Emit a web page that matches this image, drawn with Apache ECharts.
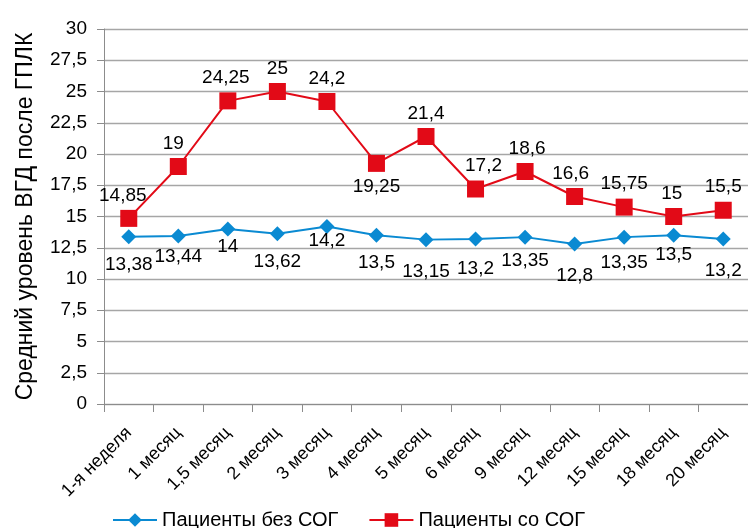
<!DOCTYPE html>
<html><head><meta charset="utf-8">
<script src="https://cdn.jsdelivr.net/npm/echarts@6/dist/echarts.min.js"></script>
<style>html,body{margin:0;padding:0;background:#fff}#c{width:748px;height:528px}</style>
</head><body><div id="c"></div>
<script>
const categories = ['1-я неделя','1 месяц','1,5 месяц','2 месяц','3 месяц','4 месяц','5 месяц','6 месяц','9 месяц','12 месяц','15 месяц','18 месяц','20 месяц'];
const withoutSOG = [13.38,13.44,14,13.62,14.2,13.5,13.15,13.2,13.35,12.8,13.35,13.5,13.2];
const withSOG = [14.85,19,24.25,25,24.2,19.25,21.4,17.2,18.6,16.6,15.75,15,15.5];
const seriesNames = ['Пациенты без СОГ','Пациенты со СОГ'];
const yTicks = {min:0, max:30, interval:2.5};
const yName = 'Средний уровень ВГД после ГПЛК';

// label layout tweaks (style only)
const redLabelNudgeX = [-6,-5,-2,0,0,0,0,8,2,-4,0,-2,0];
const blueLabelNudgeY = [4,-3,-6,4,-10,4,8,6,0,8,2,-4,8];

const font = 'Liberation Sans, Arial, sans-serif';
const fmt = v => String(v).replace('.', ',');
const blue = '#0A8AD2', red = '#E20A17';

const chart = echarts.init(document.getElementById('c'));
chart.setOption({
  animation:false,
  grid:{left:104, right:0, top:29, bottom:124, containLabel:false},
  legend:{
    bottom:-7, left:107, itemWidth:44, itemHeight:17, itemGap:30,
    textStyle:{fontFamily:font, fontSize:20, color:'#000'},
    data:seriesNames
  },
  xAxis:{
    type:'category', data:categories, boundaryGap:true,
    axisLine:{lineStyle:{color:'#8c8c8c', width:1}},
    axisTick:{show:true, length:8, lineStyle:{color:'#8c8c8c'}},
    axisLabel:{rotate:45, fontFamily:font, fontSize:18, color:'#000', margin:26, interval:0}
  },
  yAxis:{
    type:'value', min:yTicks.min, max:yTicks.max, interval:yTicks.interval,
    name:yName, nameLocation:'middle', nameGap:67,
    nameTextStyle:{fontFamily:font, fontSize:23, color:'#000'},
    axisLine:{show:true, lineStyle:{color:'#8c8c8c'}},
    axisTick:{show:true, length:7, lineStyle:{color:'#8c8c8c'}},
    splitLine:{lineStyle:{color:'#a6a6a6', width:1.3}},
    axisLabel:{fontFamily:font, fontSize:19, color:'#000', margin:17, formatter:v=>fmt(v)}
  },
  series:[
    {
      name:seriesNames[0], type:'line',
      data:withoutSOG.map((v,i)=>({value:v, label:{offset:[0, blueLabelNudgeY[i]]}})),
      symbol:'diamond', symbolSize:15,
      itemStyle:{color:blue}, lineStyle:{color:blue, width:2},
      label:{show:true, position:'bottom', distance:7, fontFamily:font, fontSize:19, color:'#000', formatter:p=>fmt(p.value)},
      z:2
    },
    {
      name:seriesNames[1], type:'line',
      data:withSOG.map((v,i)=>({value:v, label: i===5 ? {position:'bottom', offset:[0,0]} : {offset:[redLabelNudgeX[i],0]}})),
      symbol:'rect', symbolSize:17,
      itemStyle:{color:red}, lineStyle:{color:red, width:2},
      label:{show:true, position:'top', distance:5, fontFamily:font, fontSize:19, color:'#000', formatter:p=>fmt(p.value)},
      z:3
    }
  ]
});
</script></body></html>
